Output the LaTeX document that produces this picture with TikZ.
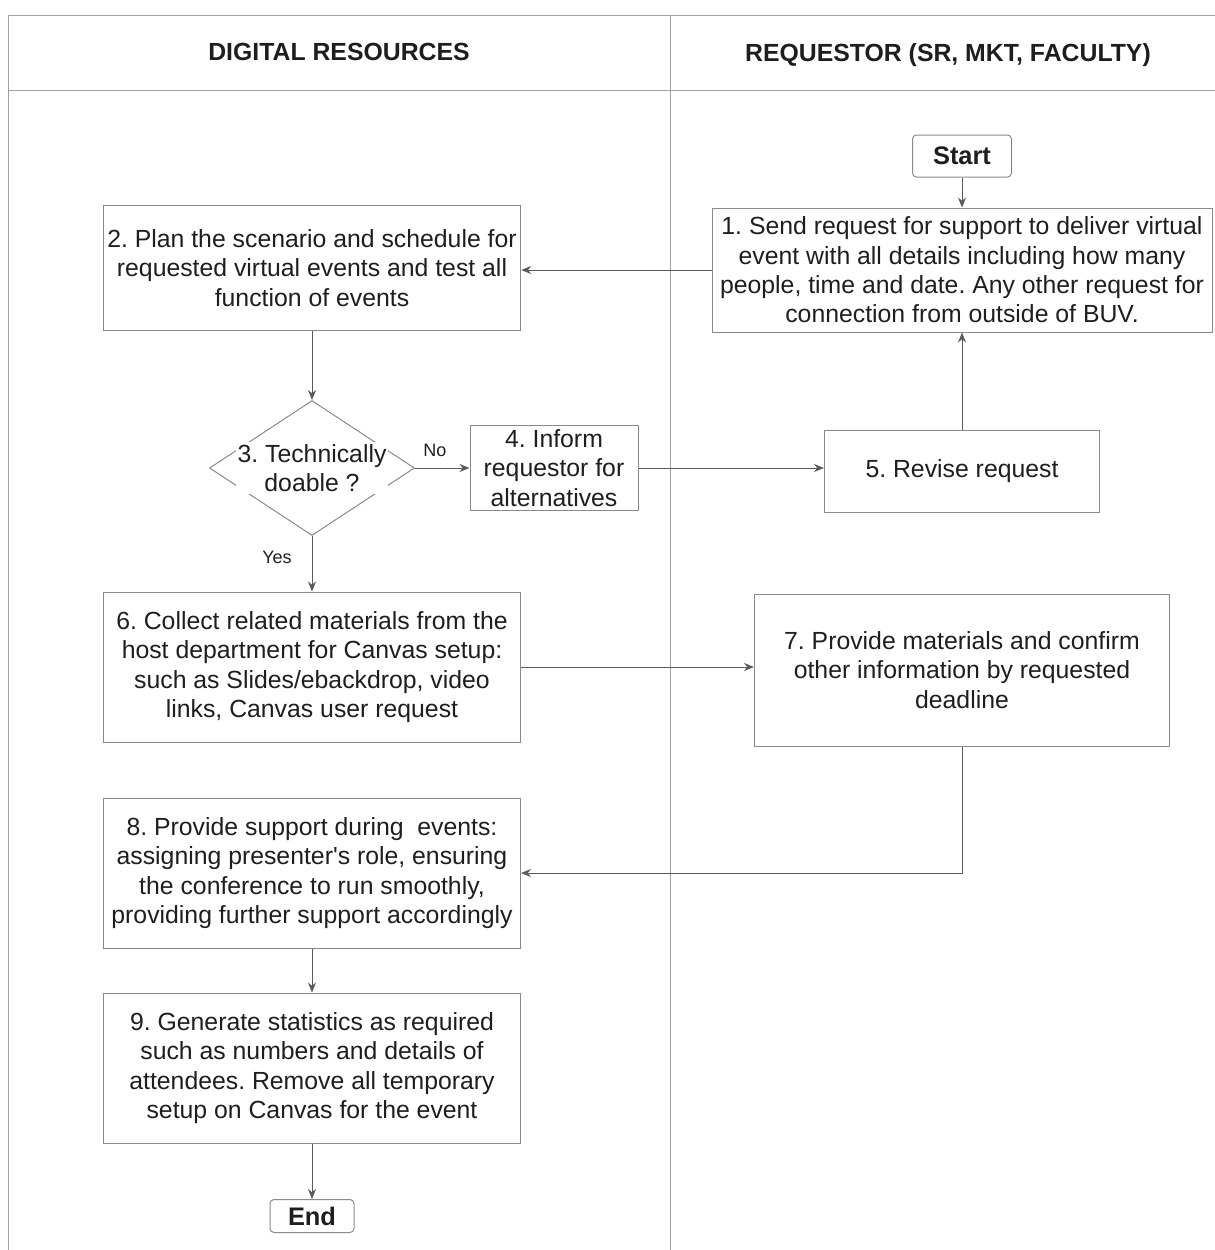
\documentclass[tikz,border=0pt]{standalone}
\usepackage{fontspec}
\setmainfont{Liberation Sans}
\usepackage{tikz}
\usetikzlibrary{shapes.geometric,arrows.meta}
\definecolor{linegray}{HTML}{8A8A8A}
\definecolor{arrgray}{HTML}{5A5A5A}
\definecolor{inkgray}{HTML}{1E1E1E}
\frenchspacing
\tikzstyle{every node}=[text=inkgray]
\tikzstyle{box}=[draw=linegray,line width=0.5pt,align=center,inner sep=2pt,font=\fontsize{12.4}{14.7}\selectfont]
\tikzstyle{term}=[draw=linegray,line width=0.5pt,rounded corners=2pt,font=\fontsize{12.7}{14}\selectfont\bfseries]
\tikzstyle{dmd}=[draw=linegray,line width=0.5pt,diamond,minimum width=102.5pt,minimum height=67.5pt,inner sep=0pt]
\tikzstyle{flow}=[draw=arrgray,line width=0.5pt,-{Stealth[length=5pt,width=4pt]}]
\tikzstyle{lane}=[draw=linegray!80,line width=0.5pt]
\tikzstyle{tag}=[font=\fontsize{9}{10}\selectfont]
\tikzstyle{head}=[font=\fontsize{12.4}{14}\selectfont\bfseries]

\begin{document}
\begin{tikzpicture}[x=0.5pt,y=-0.5pt]
\useasboundingbox (0,0) rectangle (1215,1250);
% lanes
\draw[lane] (8,15) -- (1215,15);
\draw[lane] (8,90) -- (1215,90);
\draw[lane] (8,15) -- (8,1250);
\draw[lane] (670,15) -- (670,1250);
\node[head] (hdr1) at (339,52) {DIGITAL RESOURCES};
\node[head] (hdr2) at (948,55) {REQUESTOR (SR, MKT, FACULTY)};

% requestor side
\node[term,minimum width=49.5pt,minimum height=21pt] (start) at (962,156) {Start};
\node[box,minimum width=250pt,minimum height=62pt] (b1) at (962,270) {1. Send request for support to deliver virtual\\event with all details including how many\\people, time and date. Any other request for\\connection from outside of BUV.};
\node[box,minimum width=137.5pt,minimum height=41pt] (b5) at (962,471) {5. Revise request};
\node[box,minimum width=207.5pt,minimum height=76pt] (b7) at (962,670) {7. Provide materials and confirm\\other information by requested\\deadline};

% digital resources side
\node[box,minimum width=208.5pt,minimum height=62.5pt] (b2) at (312,268) {2. Plan the scenario and schedule for\\requested virtual events and test all\\function of events};
\node[dmd] (b3) at (312,468) {};
\node[fill=white,inner sep=1pt,align=center,font=\fontsize{12.4}{14.7}\selectfont] (b3txt) at (312,468) {3. Technically\\doable ?};
\node[box,minimum width=84pt,minimum height=41.5pt] (b4) at (554,468) {4. Inform\\requestor for\\alternatives};
\node[box,minimum width=208.5pt,minimum height=75pt] (b6) at (312,667) {6. Collect related materials from the\\host department for Canvas setup:\\such as Slides/ebackdrop, video\\links, Canvas user request};
\node[box,minimum width=208.5pt,minimum height=75pt] (b8) at (312,873) {8. Provide support during\ \ events:\\assigning presenter\textquotesingle s role, ensuring\\the conference to run smoothly,\\providing further support accordingly};
\node[box,minimum width=208.5pt,minimum height=75pt] (b9) at (312,1068) {9. Generate statistics as required\\such as numbers and details of\\attendees. Remove all temporary\\setup on Canvas for the event};
\node[term,minimum width=42pt,minimum height=16.5pt] (end) at (312,1216) {End};

% connectors
\draw[flow] (start) -- (b1);
\draw[flow] (b1.west) -- (b1.west -| b2.east);
\draw[flow] (b2.south) -- (b3.north);
\draw[flow] (b3.east) -- (b4.west);
\node[tag] (no) at (435,450) {No};
\draw[flow] (b4.east) -- (b4.east -| b5.west);
\draw[flow] (b5) -- (b1);
\draw[flow] (b3.south) -- (b6.north);
\node[tag] (yes) at (277,557) {Yes};
\draw[flow] (b6.east) -- (b6.east -| b7.west);
\draw[flow] (b7.south) |- (b8.east);
\draw[flow] (b8) -- (b9);
\draw[flow] (b9) -- (end);
\end{tikzpicture}
\end{document}
